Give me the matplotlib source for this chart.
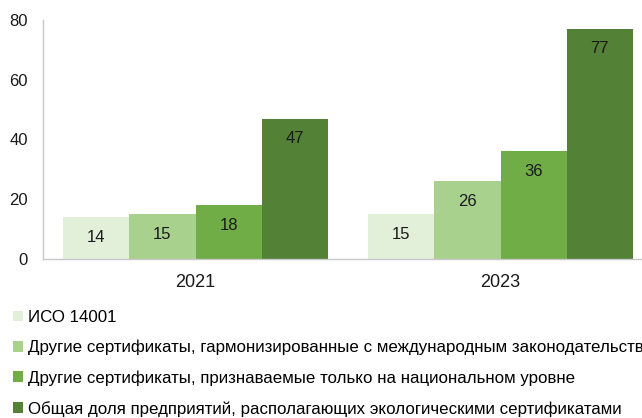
import matplotlib
matplotlib.use("Agg")
import matplotlib.pyplot as plt
import numpy as np
from matplotlib.patches import Patch

plt.rcParams['font.family'] = ['Liberation Sans', 'DejaVu Sans']

years = ['2021', '2023']
series_names = [
    'ИСО 14001',
    'Другие сертификаты, гармонизированные с международным законодательством',
    'Другие сертификаты, признаваемые только на национальном уровне',
    'Общая доля предприятий, располагающих экологическими сертификатами',
]
iso = [14, 15]
harmonized = [15, 26]
national = [18, 36]
total = [47, 77]
series_values = [iso, harmonized, national, total]
colors = ['#E2EFD9', '#A9D18E', '#70AD47', '#538135']

fig = plt.figure(figsize=(6.42, 4.18), dpi=100)
ax = fig.add_axes([43 / 642, 1 - 259 / 418, 610 / 642, 239 / 418])

x = np.arange(len(years))
w = 0.2164
offsets = (np.arange(4) - 1.5) * w
for vals, off, c in zip(series_values, offsets, colors):
    bars = ax.bar(x + off, vals, width=w, color=c, edgecolor='none')
    for b, v in zip(bars, vals):
        ax.annotate(f'{v}', (b.get_x() + b.get_width() / 2, v),
                    xytext=(0, -14.3), textcoords='offset points',
                    ha='center', va='center', fontsize=12, color='#1a1a1a')

ax.set_xlim(-0.5, 1.5)
ax.set_ylim(0, 80)
ax.set_yticks([0, 20, 40, 60, 80])
ax.set_xticks(x)
ax.set_xticklabels(years)
ax.tick_params(axis='both', length=0, labelsize=12, colors='#1a1a1a')
ax.tick_params(axis='y', pad=11)
ax.tick_params(axis='x', pad=11, labelsize=13)
for s in ['top', 'right']:
    ax.spines[s].set_visible(False)
ax.spines['left'].set_color('#C8C8C8')
ax.spines['bottom'].set_color('#C8C8C8')
ax.spines['left'].set_linewidth(1.0)
ax.spines['bottom'].set_linewidth(1.0)

handles = [Patch(facecolor=c, edgecolor='none') for c in colors]
fig.legend(handles, series_names, loc='upper left',
           bbox_to_anchor=(13 / 642, 1 - 310 / 418), frameon=False,
           fontsize=12.2, handlelength=0.6, handleheight=0.6,
           handletextpad=0.3, labelspacing=0.88, borderaxespad=0,
           borderpad=0)

fig.savefig('out.png', dpi=100)
